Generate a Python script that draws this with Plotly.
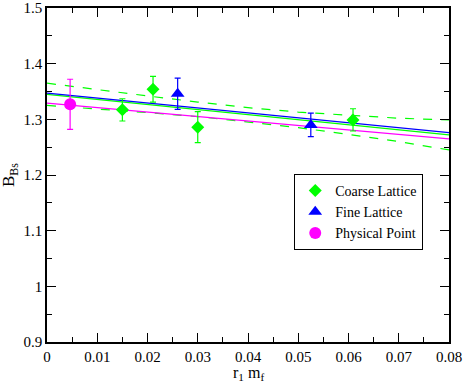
import plotly.graph_objects as go

# coarse lattice points
coarse_x = [0.015, 0.0211, 0.030, 0.0609]
coarse_y = [1.317, 1.354, 1.286, 1.299]
coarse_err = [0.020, 0.023, 0.028, 0.020]

# fine lattice points
fine_x = [0.026, 0.0525]
fine_y = [1.346, 1.290]
fine_err = [0.028, 0.021]

# physical point
phys_x = [0.0046]
phys_y = [1.327]
phys_err = [0.045]

# fit lines
fit_x = [0.0, 0.08]
blue_fit = [1.347, 1.276]
green_fit = [1.345, 1.272]
magenta_fit = [1.329, 1.265]

# coarse fit error band
band_x = [0.0, 0.01, 0.02, 0.03, 0.04, 0.05, 0.06, 0.07, 0.08]
band_up = [1.365, 1.353, 1.342, 1.331, 1.321, 1.313, 1.307, 1.302, 1.299]
band_lo = [1.325, 1.319, 1.312, 1.305, 1.295, 1.285, 1.273, 1.260, 1.245]

serif = "'Liberation Serif', 'Times New Roman', Times, serif"
fig = go.Figure()

fig.add_trace(go.Scatter(x=band_x, y=band_up, mode="lines", showlegend=False,
                         line=dict(color="#00ff00", width=1.2, dash="dash")))
fig.add_trace(go.Scatter(x=band_x, y=band_lo, mode="lines", showlegend=False,
                         line=dict(color="#00ff00", width=1.2, dash="dash")))
fig.add_trace(go.Scatter(x=fit_x, y=green_fit, mode="lines", showlegend=False,
                         line=dict(color="#00ff00", width=1.2)))
fig.add_trace(go.Scatter(x=fit_x, y=magenta_fit, mode="lines", showlegend=False,
                         line=dict(color="#ff00ff", width=1.2)))
fig.add_trace(go.Scatter(x=fit_x, y=blue_fit, mode="lines", showlegend=False,
                         line=dict(color="#0000ff", width=1.2)))

fig.add_trace(go.Scatter(x=coarse_x, y=coarse_y, mode="markers", name="Coarse Lattice",
                         marker=dict(symbol="diamond", size=10, color="#00ff00"),
                         error_y=dict(type="data", array=coarse_err, color="#00ff00",
                                      thickness=1.2, width=3)))
fig.add_trace(go.Scatter(x=fine_x, y=fine_y, mode="markers", name="Fine Lattice",
                         marker=dict(symbol="triangle-up", size=12, color="#0000ff"),
                         error_y=dict(type="data", array=fine_err, color="#0000ff",
                                      thickness=1.2, width=3)))
fig.add_trace(go.Scatter(x=phys_x, y=phys_y, mode="markers", name="Physical Point",
                         marker=dict(symbol="circle", size=12, color="#ff00ff"),
                         error_y=dict(type="data", array=phys_err, color="#ff00ff",
                                      thickness=1.2, width=3)))

axis_common = dict(showgrid=False, zeroline=False, showline=True, linecolor="black",
                   linewidth=1.5, mirror="ticks", ticks="inside", ticklen=9,
                   tickcolor="black", tickwidth=1, automargin=False,
                   tickfont=dict(family=serif, size=15, color="black"))

fig.update_xaxes(range=[0, 0.08], dtick=0.01,
                 minor=dict(dtick=0.005, ticks="inside", ticklen=5, tickcolor="black"),
                 **axis_common)
fig.update_yaxes(range=[0.9, 1.5], dtick=0.1,
                 minor=dict(dtick=0.05, ticks="inside", ticklen=5, tickcolor="black"),
                 **axis_common)

# axis titles
fig.add_annotation(text="r<sub>1</sub> m<sub>f</sub>", xref="paper", yref="paper",
                   x=0.5, y=0, xanchor="center", yanchor="top", yshift=-20,
                   showarrow=False, font=dict(family=serif, size=16, color="black"))
fig.add_annotation(text="B<sub>Bs</sub>", xref="paper", yref="paper",
                   x=0, y=0.5, xanchor="right", yanchor="middle", xshift=-24,
                   textangle=-90, showarrow=False,
                   font=dict(family=serif, size=17, color="black"))

fig.update_layout(width=463, height=382, margin=dict(l=47, r=14, t=8, b=40),
                  plot_bgcolor="white", paper_bgcolor="white",
                  legend=dict(x=0.615, y=0.503, xanchor="left", yanchor="top",
                              bordercolor="black", borderwidth=1, bgcolor="white",
                              font=dict(family=serif, size=14, color="black"),
                              tracegroupgap=0, itemsizing="trace", itemwidth=30))

fig.write_html("out.html", config={"displayModeBar": False},
               post_script="document.body.style.margin='0';")
